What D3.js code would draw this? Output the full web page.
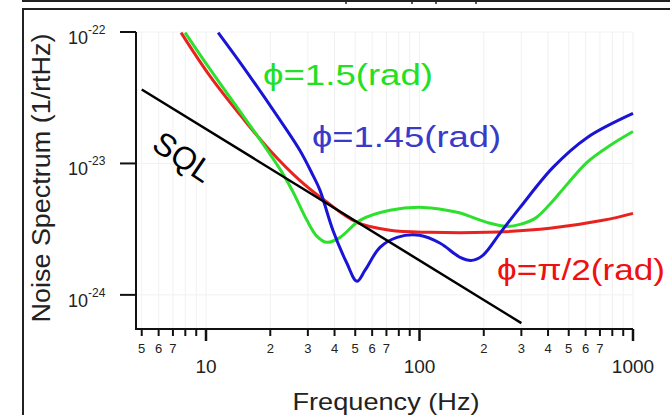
<!DOCTYPE html>
<html>
<head>
<meta charset="utf-8">
<script src="https://cdn.jsdelivr.net/npm/d3@7"></script>
<style>
  body { margin: 0; background: #fff; }
  text { font-family: "Liberation Sans", Arial, Helvetica, sans-serif; }
</style>
</head>
<body>
<div id="chart"></div>
<script>
// --- data (frequency in Hz, noise in 1/rtHz) ---
const sqlFreq = [5, 300];
const sqlNoise = [3.65e-23, 6.1e-25];

const redFreq  = [7.64, 10.4, 14.9, 19.9, 27.5, 36.9, 50.9, 72.7, 112, 207, 408, 723, 1000];
const redNoise = [9.9e-23, 4.66e-23, 2.2e-23, 1.26e-23, 7.43e-24, 5.06e-24, 3.56e-24, 3.1e-24, 2.99e-24, 2.99e-24, 3.21e-24, 3.69e-24, 4.17e-24];

const greenFreq  = [7.98, 10.4, 14.9, 17.9, 22.7, 25.5, 29.7, 33.1, 36.9, 42.5, 52.6, 72.7, 104, 150, 207, 257, 296, 348, 408, 491, 609, 780, 1000];
const greenNoise = [9.9e-23, 5.26e-23, 2.31e-23, 1.52e-23, 8.55e-24, 6.12e-24, 3.69e-24, 2.79e-24, 2.51e-24, 2.74e-24, 3.69e-24, 4.4e-24, 4.63e-24, 4.25e-24, 3.56e-24, 3.32e-24, 3.44e-24, 3.82e-24, 4.89e-24, 6.93e-24, 1.02e-23, 1.37e-23, 1.75e-23];

const blueFreq  = [11.4, 14.9, 21.5, 27.5, 31.7, 34.2, 39.3, 45.7, 50.9, 55.6, 65.3, 78.5, 100, 125, 155, 176, 198, 238, 296, 422, 609, 1000];
const blueNoise = [9.9e-23, 5.46e-23, 2.31e-23, 1.26e-23, 8.11e-24, 6.24e-24, 3.1e-24, 1.74e-24, 1.27e-24, 1.54e-24, 2.3e-24, 2.74e-24, 2.84e-24, 2.47e-24, 1.93e-24, 1.83e-24, 2.0e-24, 2.94e-24, 4.63e-24, 9.33e-24, 1.57e-23, 2.4e-23];

const xMinorTicks = [5, 6, 7, 8, 9, 20, 30, 40, 50, 60, 70, 80, 90, 200, 300, 400, 500, 600, 700, 800, 900];
const xMinorLabels = [5, 6, 7, 20, 30, 40, 50, 60, 70, 200, 300, 400, 500, 600, 700];
const xMajorTicks = [10, 100, 1000];
const yMajorTicks = [1e-22, 1e-23, 1e-24];
const yExponents = ["-22", "-23", "-24"];

const width = 670, height = 415;
const svg = d3.select("#chart").append("svg")
  .attr("width", width).attr("height", height);

const x = d3.scaleLog().domain([4.7, 1000]).range([136, 633]);
const y = d3.scaleLog().domain([5.5e-25, 1e-22]).range([329, 32]);

// outer frame bits
svg.append("line").attr("x1", 22).attr("x2", width).attr("y1", 1).attr("y2", 1)
  .attr("stroke", "#222").attr("stroke-width", 2);
[346, 412, 436, 476].forEach(px => {
  svg.append("line").attr("x1", px).attr("x2", px).attr("y1", 0).attr("y2", 4)
    .attr("stroke", "#222").attr("stroke-width", 1.5);
});
svg.append("line").attr("x1", 22).attr("x2", width).attr("y1", 9).attr("y2", 9)
  .attr("stroke", "#222").attr("stroke-width", 2);
svg.append("line").attr("x1", 23).attr("x2", 23).attr("y1", 8).attr("y2", height)
  .attr("stroke", "#222").attr("stroke-width", 2);

// faint grid
const grid = svg.append("g").attr("stroke", "#f1f1f1").attr("stroke-width", 1);
xMinorTicks.concat(xMajorTicks).forEach(v => {
  grid.append("line").attr("x1", x(v)).attr("x2", x(v)).attr("y1", 32).attr("y2", 329);
});
yMajorTicks.forEach(v => {
  grid.append("line").attr("x1", 136).attr("x2", 633).attr("y1", y(v)).attr("y2", y(v));
});

// axes
const axisG = svg.append("g").attr("stroke", "#111").attr("stroke-width", 2).attr("fill", "none");
axisG.append("path").attr("d", `M136,${y(1e-22)}V329H${x(1000)}`);
yMajorTicks.forEach(v => {
  axisG.append("line").attr("x1", 120).attr("x2", 136).attr("y1", y(v)).attr("y2", y(v));
});
xMinorTicks.forEach(v => {
  axisG.append("line").attr("x1", x(v)).attr("x2", x(v)).attr("y1", 329).attr("y2", 336);
});
xMajorTicks.forEach(v => {
  axisG.append("line").attr("x1", x(v)).attr("x2", x(v)).attr("y1", 329).attr("y2", 341).attr("stroke-width", 2.5);
});

// tick labels
svg.append("g").selectAll("text").data(xMinorLabels).join("text")
  .attr("x", d => x(d)).attr("y", 353)
  .attr("text-anchor", "middle").attr("font-size", 13).attr("fill", "#222")
  .text(d => String(d).charAt(0));
svg.append("g").selectAll("text").data(xMajorTicks).join("text")
  .attr("x", d => x(d)).attr("y", 373)
  .attr("text-anchor", "middle").attr("font-size", 19).attr("fill", "#222")
  .text(d => d);

yMajorTicks.forEach((v, i) => {
  const t = svg.append("text").attr("x", 68).attr("y", y(v) + 12)
    .attr("font-size", 18).attr("fill", "#222");
  t.append("tspan").text("10");
  t.append("tspan").attr("dy", -10).attr("font-size", 12).text(yExponents[i]);
});

// axis titles
svg.append("text")
  .attr("transform", "translate(50,178) rotate(-90)")
  .attr("text-anchor", "middle").attr("font-size", 26).attr("fill", "#222")
  .attr("textLength", 289).attr("lengthAdjust", "spacingAndGlyphs")
  .text("Noise Spectrum (1/rtHz)");
svg.append("text")
  .attr("x", 386).attr("y", 410)
  .attr("text-anchor", "middle").attr("font-size", 24).attr("fill", "#222")
  .attr("textLength", 187).attr("lengthAdjust", "spacingAndGlyphs")
  .text("Frequency (Hz)");

// curves
svg.append("defs").append("clipPath").attr("id", "plot")
  .append("rect").attr("x", 136).attr("y", 30).attr("width", 500).attr("height", 300);

const line = d3.line()
  .x(d => x(d[0])).y(d => y(d[1]))
  .curve(d3.curveCatmullRom.alpha(0.5));

const series = [
  {f: redFreq, n: redNoise, color: "#e8231f", w: 3},
  {f: greenFreq, n: greenNoise, color: "#2ee02e", w: 3},
  {f: blueFreq, n: blueNoise, color: "#1a14d4", w: 3},
  {f: sqlFreq, n: sqlNoise, color: "#000", w: 2.5}
];
const plot = svg.append("g").attr("clip-path", "url(#plot)");
series.forEach(s => {
  plot.append("path")
    .datum(d3.zip(s.f, s.n))
    .attr("d", line)
    .attr("fill", "none")
    .attr("stroke", s.color)
    .attr("stroke-width", s.w)
    .attr("stroke-linejoin", "round");
});

// annotations
svg.append("text").attr("x", 263).attr("y", 85)
  .attr("font-size", 29).attr("fill", "#22e022")
  .attr("textLength", 170).attr("lengthAdjust", "spacingAndGlyphs")
  .text("ϕ=1.5(rad)");
svg.append("text").attr("x", 312).attr("y", 147)
  .attr("font-size", 30).attr("fill", "#3a3ac8")
  .attr("textLength", 189).attr("lengthAdjust", "spacingAndGlyphs")
  .text("ϕ=1.45(rad)");
svg.append("text").attr("x", 497).attr("y", 280)
  .attr("font-size", 30).attr("fill", "#ee1111")
  .attr("textLength", 168).attr("lengthAdjust", "spacingAndGlyphs")
  .text("ϕ=π/2(rad)");
svg.append("text")
  .attr("transform", "translate(183,157) rotate(34)")
  .attr("text-anchor", "middle").attr("dominant-baseline", "central")
  .attr("font-size", 32).attr("fill", "#000")
  .text("SQL");
</script>
</body>
</html>
